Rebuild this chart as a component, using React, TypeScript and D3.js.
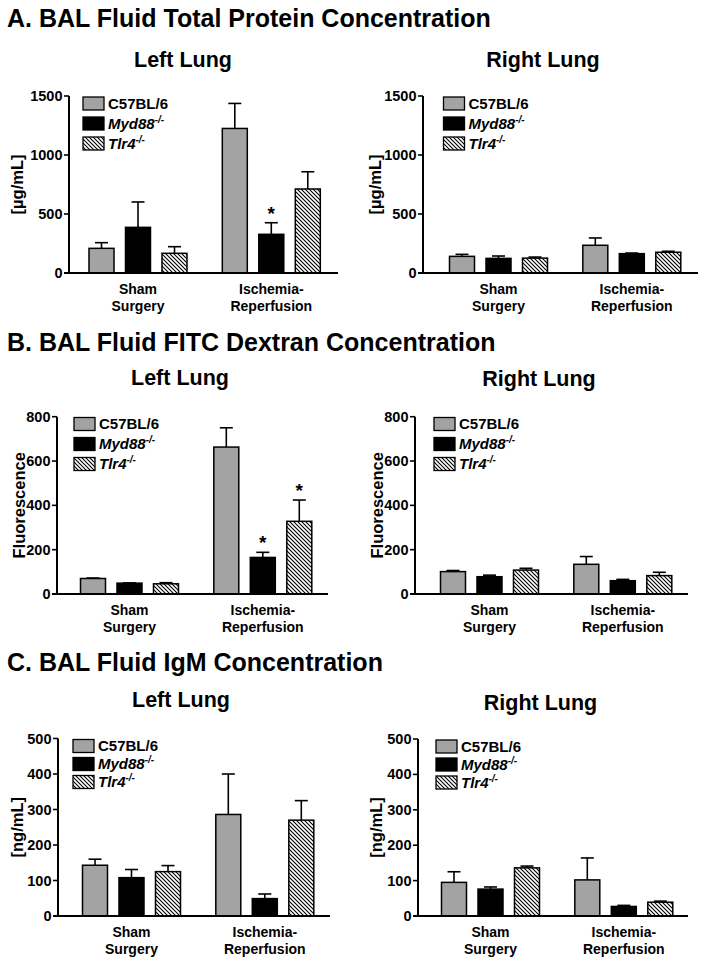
import React from 'react';
import * as d3 from 'd3';

const groups = ['Sham Surgery', 'Ischemia-Reperfusion'];
const groupLabelLines = [['Sham', 'Surgery'], ['Ischemia-', 'Reperfusion']];
const strains = ['C57BL/6', 'Myd88', 'Tlr4'];

// values indexed [group][strain]
const proteinLeftMean = [[209, 387, 167], [1225, 328, 712]];
const proteinLeftSem = [[48, 215, 56], [212, 98, 146]];
const proteinRightMean = [[141, 124, 126], [235, 164, 176]];
const proteinRightSem = [[17, 20, 9], [62, 5, 8]];
const fitcLeftMean = [[70, 49, 46], [663, 165, 328]];
const fitcLeftSem = [[2, 1, 5], [87, 23, 96]];
const fitcRightMean = [[101, 78, 108], [134, 60, 83]];
const fitcRightSem = [[5, 7, 8], [35, 6, 15]];
const igmLeftMean = [[143, 108, 125], [286, 49, 270]];
const igmLeftSem = [[17, 23, 17], [114, 13, 55]];
const igmRightMean = [[95, 76, 136], [102, 27, 39]];
const igmRightSem = [[30, 6, 5], [62, 3, 3]];

const proteinTicks = [0, 500, 1000, 1500];
const fitcTicks = [0, 200, 400, 600, 800];
const igmTicks = [0, 100, 200, 300, 400, 500];

// significance markers: [group, strain]
const proteinLeftStars = [[1, 1]];
const fitcLeftStars = [[1, 1], [1, 2]];
const noStars: number[][] = [];

const FONT = "'Liberation Sans', Arial, Helvetica, sans-serif";
const GREY = '#a3a3a3';

type PanelProps = {
  mean: number[][];
  sem: number[][];
  ticks: number[];
  stars: number[][];
  yLabel: string;
  subtitle: string;
  subX: number;
  subY: number;
  axisX: number;
  axisEnd: number;
  firstCenter: number;
  yTop: number;
  yZero: number;
  yLabelX: number;
  legX: number;
  legY: number;
  legDy: number;
};

function fillFor(i: number) {
  if (i === 0) return GREY;
  if (i === 1) return '#000';
  return 'url(#hatch)';
}

function Panel(p: PanelProps) {
  const maxV = p.ticks[p.ticks.length - 1];
  const y = d3.scaleLinear().domain([0, maxV]).range([p.yZero, p.yTop]);
  const groupStep = 133.3;
  const bw = 109.5;
  const pad = 1 - bw / groupStep;
  const start = p.firstCenter - bw / 2;
  const x0 = d3
    .scaleBand<string>()
    .domain(groups)
    .range([start, start + groupStep * (2 - pad)])
    .paddingInner(pad)
    .paddingOuter(0);
  const x1 = d3
    .scaleBand<string>()
    .domain(strains)
    .range([0, x0.bandwidth()])
    .paddingInner(0.315)
    .paddingOuter(0.1575);
  const yMid = (p.yTop + p.yZero) / 2;
  return (
    <g>
      <text x={p.subX} y={p.subY} textAnchor="middle" fontSize={21.5} fontWeight="bold">
        {p.subtitle}
      </text>
      {/* bars */}
      {groups.map((g, gi) =>
        strains.map((s, si) => {
          const bx = (x0(g) as number) + (x1(s) as number);
          const w = x1.bandwidth();
          const m = p.mean[gi][si];
          const e = p.sem[gi][si];
          const cx = bx + w / 2;
          return (
            <g key={g + s}>
              <line x1={cx} x2={cx} y1={y(m)} y2={y(m + e)} stroke="#000" strokeWidth={1.6} />
              <line x1={cx - 6.5} x2={cx + 6.5} y1={y(m + e)} y2={y(m + e)} stroke="#000" strokeWidth={1.6} />
              <rect x={bx} y={y(m)} width={w} height={p.yZero - y(m)} fill={fillFor(si)} stroke="#000" strokeWidth={1.5} />
            </g>
          );
        })
      )}
      {/* stars */}
      {p.stars.map(([gi, si], k) => {
        const cx = (x0(groups[gi]) as number) + (x1(strains[si]) as number) + x1.bandwidth() / 2;
        const top = y(p.mean[gi][si] + p.sem[gi][si]);
        return (
          <text key={k} x={cx} y={top - 3} textAnchor="middle" fontSize={19} fontWeight="bold">
            *
          </text>
        );
      })}
      {/* y axis */}
      <line x1={p.axisX} x2={p.axisX} y1={p.yTop} y2={p.yZero + 1} stroke="#000" strokeWidth={2} />
      {p.ticks.map((t) => (
        <g key={t}>
          <line x1={p.axisX - 5} x2={p.axisX} y1={y(t)} y2={y(t)} stroke="#000" strokeWidth={1.6} />
          <text x={p.axisX - 6.5} y={y(t)} dy="0.35em" textAnchor="end" fontSize={14.5} fontWeight="bold">
            {t}
          </text>
        </g>
      ))}
      {/* x axis */}
      <line x1={p.axisX - 5} x2={p.axisEnd} y1={p.yZero} y2={p.yZero} stroke="#000" strokeWidth={2.2} />
      {groups.map((g, gi) => {
        const cx = (x0(g) as number) + x0.bandwidth() / 2;
        return (
          <g key={g}>
            <text x={cx} y={p.yZero + 20.5} textAnchor="middle" fontSize={14} fontWeight="bold">
              {groupLabelLines[gi][0]}
            </text>
            <text x={cx} y={p.yZero + 37.5} textAnchor="middle" fontSize={14} fontWeight="bold">
              {groupLabelLines[gi][1]}
            </text>
          </g>
        );
      })}
      {/* y label */}
      <text
        transform={`translate(${p.yLabelX},${yMid}) rotate(-90)`}
        textAnchor="middle"
        fontSize={16.5}
        fontWeight="bold"
      >
        {p.yLabel}
      </text>
      {/* legend */}
      {strains.map((s, si) => {
        const cy = p.legY + si * p.legDy;
        return (
          <g key={s}>
            <rect x={p.legX} y={cy - 6.5} width={21} height={13} fill={fillFor(si)} stroke="#000" strokeWidth={1.3} />
            <text x={p.legX + 25} y={cy} dy="0.36em" fontSize={15} fontWeight="bold" fontStyle={si === 0 ? 'normal' : 'italic'}>
              {s}
              {si > 0 && (
                <tspan dy={-6} fontSize={10}>
                  -/-
                </tspan>
              )}
            </text>
          </g>
        );
      })}
    </g>
  );
}

export default function App() {
  return (
    <svg
      width={705}
      height={964}
      style={{ position: 'absolute', left: 0, top: 0, background: '#fff' }}
      fontFamily={FONT}
    >
      <defs>
        <pattern id="hatch" patternUnits="userSpaceOnUse" width={4} height={4}>
          <rect width={4} height={4} fill="#fff" />
          <path d="M-1,-1 L5,5 M-1,3 L1,5 M3,-1 L5,1" stroke="#000" strokeWidth={1.1} />
        </pattern>
      </defs>
      <rect width={705} height={964} fill="#fff" />

      <text x={7} y={27} fontSize={25} fontWeight="bold">A. BAL Fluid Total Protein Concentration</text>
      <text x={7} y={351} fontSize={25} fontWeight="bold">B. BAL Fluid FITC Dextran Concentration</text>
      <text x={7} y={671} fontSize={25} fontWeight="bold">C. BAL Fluid IgM Concentration</text>

      <Panel mean={proteinLeftMean} sem={proteinLeftSem} ticks={proteinTicks} stars={proteinLeftStars}
        yLabel="[µg/mL]" subtitle="Left Lung" subX={183} subY={67}
        axisX={69} axisEnd={338} firstCenter={138} yTop={96} yZero={273} yLabelX={23}
        legX={83} legY={103.5} legDy={20} />
      <Panel mean={proteinRightMean} sem={proteinRightSem} ticks={proteinTicks} stars={noStars}
        yLabel="[µg/mL]" subtitle="Right Lung" subX={543} subY={67}
        axisX={423} axisEnd={698} firstCenter={498.5} yTop={96} yZero={273} yLabelX={381}
        legX={443.5} legY={103.5} legDy={20} />

      <Panel mean={fitcLeftMean} sem={fitcLeftSem} ticks={fitcTicks} stars={fitcLeftStars}
        yLabel="Fluorescence" subtitle="Left Lung" subX={180} subY={385}
        axisX={57} axisEnd={328} firstCenter={129.5} yTop={416.7} yZero={594} yLabelX={25}
        legX={74} legY={424} legDy={20} />
      <Panel mean={fitcRightMean} sem={fitcRightSem} ticks={fitcTicks} stars={noStars}
        yLabel="Fluorescence" subtitle="Right Lung" subX={539} subY={386}
        axisX={415} axisEnd={688} firstCenter={489.5} yTop={416.7} yZero={594} yLabelX={383}
        legX={434} legY={424} legDy={20} />

      <Panel mean={igmLeftMean} sem={igmLeftSem} ticks={igmTicks} stars={noStars}
        yLabel="[ng/mL]" subtitle="Left Lung" subX={181} subY={707}
        axisX={58} axisEnd={330} firstCenter={131.5} yTop={738.5} yZero={916} yLabelX={23}
        legX={73} legY={746} legDy={18} />
      <Panel mean={igmRightMean} sem={igmRightSem} ticks={igmTicks} stars={noStars}
        yLabel="[ng/mL]" subtitle="Right Lung" subX={540.5} subY={710}
        axisX={418} axisEnd={688} firstCenter={490.5} yTop={739} yZero={916} yLabelX={382}
        legX={436} legY={746.5} legDy={18} />
    </svg>
  );
}
